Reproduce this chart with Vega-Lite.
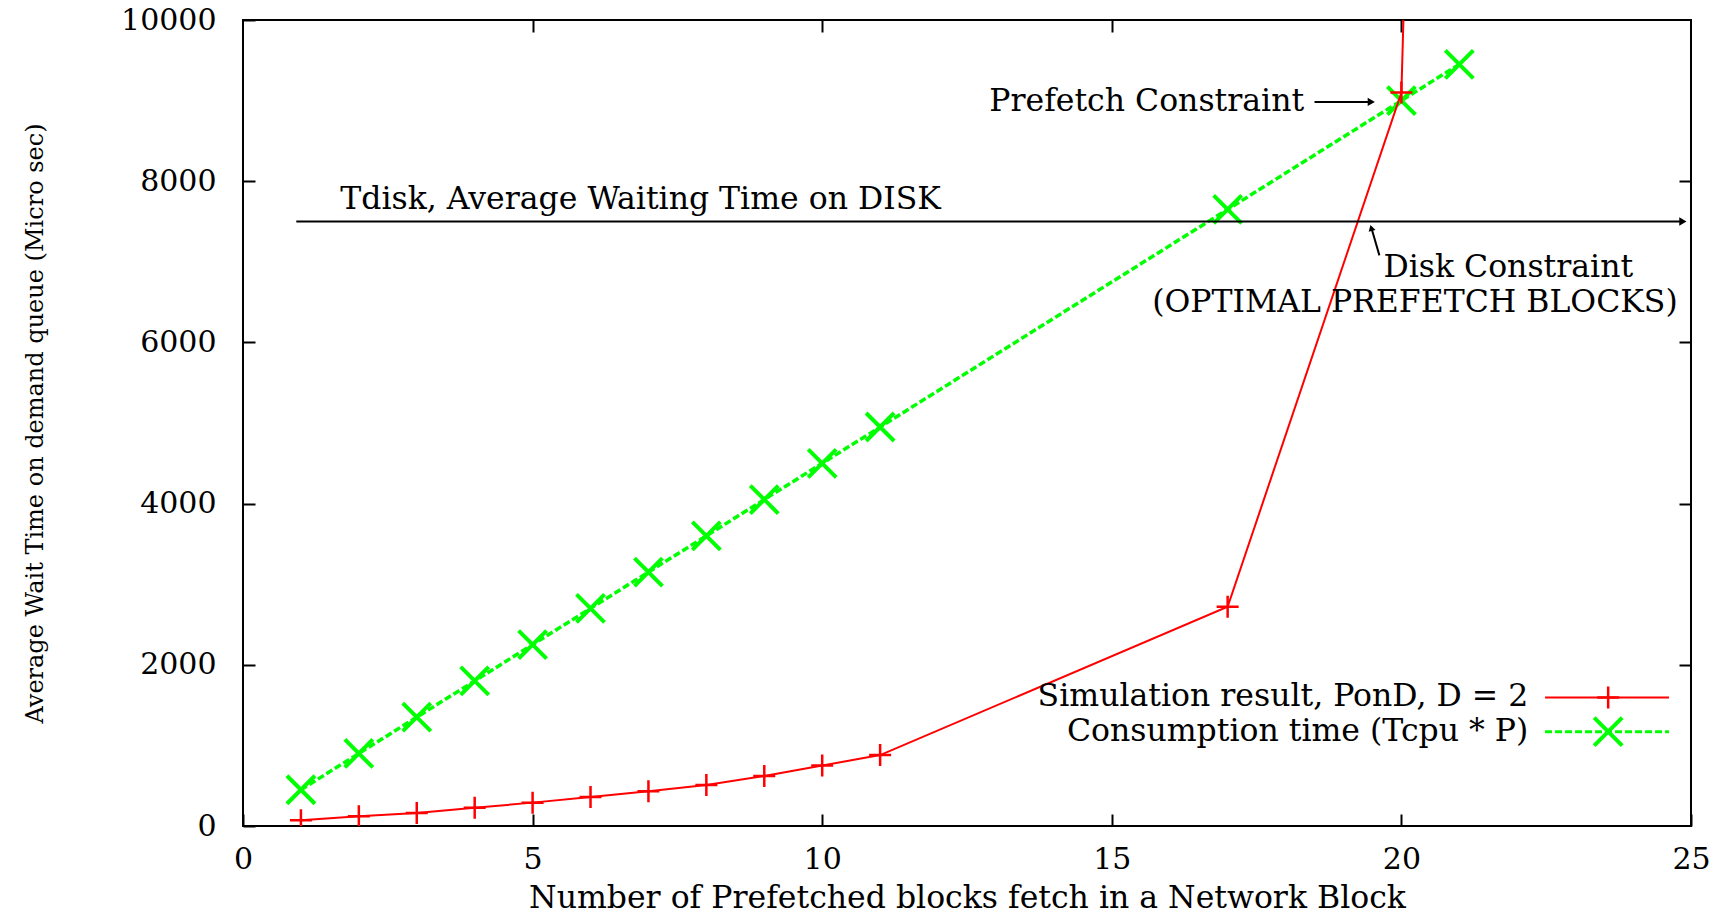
{
  "$schema": "https://vega.github.io/schema/vega-lite/v6.json",
  "width": 1448,
  "height": 806,
  "autosize": {"type": "none"},
  "padding": {"left": 243, "top": 20, "right": 42, "bottom": 89},
  "background": "white",
  "config": {
    "font": "DejaVu Serif",
    "view": {"stroke": "black", "strokeWidth": 2},
    "axis": {
      "domain": false,
      "grid": false,
      "ticks": true,
      "tickColor": "black",
      "tickWidth": 2,
      "tickSize": -12,
      "labelFont": "DejaVu Serif",
      "labelFontSize": 30,
      "labelColor": "black",
      "labelFlush": false,
      "labelOverlap": false,
      "labelBound": false,
      "titleFont": "DejaVu Serif",
      "titleFontWeight": "normal",
      "titleColor": "black"
    }
  },
  "datasets": {
    "sim": [
      {"P": 1, "wait": 70},
      {"P": 2, "wait": 120},
      {"P": 3, "wait": 160},
      {"P": 4, "wait": 225},
      {"P": 5, "wait": 290},
      {"P": 6, "wait": 360},
      {"P": 7, "wait": 430},
      {"P": 8, "wait": 510},
      {"P": 9, "wait": 620},
      {"P": 10, "wait": 750},
      {"P": 11, "wait": 880},
      {"P": 17, "wait": 2720},
      {"P": 20, "wait": 9100},
      {"P": 21, "wait": 35000}
    ],
    "cons": [
      {"P": 1, "wait": 450},
      {"P": 2, "wait": 900},
      {"P": 3, "wait": 1350},
      {"P": 4, "wait": 1800},
      {"P": 5, "wait": 2250},
      {"P": 6, "wait": 2700},
      {"P": 7, "wait": 3150},
      {"P": 8, "wait": 3600},
      {"P": 9, "wait": 4050},
      {"P": 10, "wait": 4500},
      {"P": 11, "wait": 4950},
      {"P": 17, "wait": 7650},
      {"P": 20, "wait": 9000},
      {"P": 21, "wait": 9450}
    ],
    "tdisk": [{"P": 0.92, "P2": 24.85, "wait": 7500, "wait2": 7500}],
    "pointers": [
      {"P": 18.5, "P2": 19.45, "wait": 8984, "wait2": 8984},
      {"P": 19.62, "P2": 19.49, "wait": 7080, "wait2": 7400}
    ],
    "heads_right": [
      {"P": 24.86, "wait": 7500},
      {"P": 19.48, "wait": 8984}
    ],
    "heads_up": [{"P": 19.48, "wait": 7420}],
    "notes": [
      {"P": 1.68, "wait": 7770, "label": "Tdisk, Average Waiting Time on DISK", "side": "left"},
      {"P": 18.32, "wait": 8984, "label": "Prefetch Constraint", "side": "right"},
      {"P": 19.69, "wait": 6925, "label": "Disk Constraint", "side": "left"},
      {"P": 24.77, "wait": 6495, "label": "(OPTIMAL PREFETCH BLOCKS)", "side": "right"},
      {"P": 22.19, "wait": 1595, "label": "Simulation result, PonD, D = 2", "side": "right"},
      {"P": 22.19, "wait": 1170, "label": "Consumption time (Tcpu * P)", "side": "right"}
    ],
    "key": [
      {"series": "sim", "P": 22.48, "P2": 24.62, "Pm": 23.57, "wait": 1595},
      {"series": "cons", "P": 22.48, "P2": 24.62, "Pm": 23.57, "wait": 1170}
    ]
  },
  "resolve": {"axis": {"x": "independent", "y": "independent"}},
  "layer": [
    {
      "data": {"name": "cons"},
      "mark": {"type": "line", "color": "#00ff00", "strokeWidth": 3.5, "strokeDash": [7, 3]},
      "encoding": {
        "x": {
          "field": "P", "type": "quantitative",
          "scale": {"domain": [0, 25], "nice": false, "zero": false},
          "axis": {
            "orient": "bottom",
            "values": [0, 5, 10, 15, 20, 25],
            "format": "d",
            "labelPadding": 30,
            "title": "Number of Prefetched blocks fetch in a Network Block",
            "titleFontSize": 31.5,
            "titlePadding": 8
          }
        },
        "y": {
          "field": "wait", "type": "quantitative",
          "scale": {"domain": [0, 10000], "nice": false, "zero": false},
          "axis": {
            "orient": "left",
            "values": [0, 2000, 4000, 6000, 8000, 10000],
            "format": "d",
            "labelPadding": 39,
            "title": "Average Wait Time on demand queue (Micro sec)",
            "titleFontSize": 24,
            "titlePadding": 73
          }
        }
      }
    },
    {
      "data": {"name": "cons"},
      "mark": {"type": "point", "shape": "M-1,-1L1,1M-1,1L1,-1", "filled": false, "stroke": "#00ff00", "strokeWidth": 4, "size": 784, "opacity": 1},
      "encoding": {
        "x": {"field": "P", "type": "quantitative", "axis": {"orient": "top", "labels": false, "title": null, "values": [5, 10, 15, 20]}},
        "y": {"field": "wait", "type": "quantitative", "axis": {"orient": "right", "labels": false, "title": null, "values": [2000, 4000, 6000, 8000]}}
      }
    },
    {
      "data": {"name": "sim"},
      "mark": {"type": "line", "color": "#ff0000", "strokeWidth": 2, "clip": true},
      "encoding": {
        "x": {"field": "P", "type": "quantitative", "axis": null},
        "y": {"field": "wait", "type": "quantitative", "axis": null}
      }
    },
    {
      "data": {"name": "sim"},
      "mark": {"type": "point", "shape": "M-1,0L1,0M0,-1L0,1", "filled": false, "stroke": "#ff0000", "strokeWidth": 2.5, "size": 484, "opacity": 1, "clip": true},
      "encoding": {
        "x": {"field": "P", "type": "quantitative", "axis": null},
        "y": {"field": "wait", "type": "quantitative", "axis": null}
      }
    },
    {
      "data": {"name": "tdisk"},
      "mark": {"type": "rule", "color": "black", "strokeWidth": 2},
      "encoding": {
        "x": {"field": "P", "type": "quantitative", "axis": null},
        "x2": {"field": "P2"},
        "y": {"field": "wait", "type": "quantitative", "axis": null},
        "y2": {"field": "wait2"}
      }
    },
    {
      "data": {"name": "pointers"},
      "mark": {"type": "rule", "color": "black", "strokeWidth": 2},
      "encoding": {
        "x": {"field": "P", "type": "quantitative", "axis": null},
        "x2": {"field": "P2"},
        "y": {"field": "wait", "type": "quantitative", "axis": null},
        "y2": {"field": "wait2"}
      }
    },
    {
      "data": {"name": "heads_right"},
      "mark": {"type": "point", "shape": "triangle-right", "filled": true, "color": "black", "size": 70, "opacity": 1},
      "encoding": {
        "x": {"field": "P", "type": "quantitative", "axis": null},
        "y": {"field": "wait", "type": "quantitative", "axis": null}
      }
    },
    {
      "data": {"name": "heads_up"},
      "mark": {"type": "point", "shape": "triangle-up", "filled": true, "color": "black", "size": 50, "angle": -15, "opacity": 1},
      "encoding": {
        "x": {"field": "P", "type": "quantitative", "axis": null},
        "y": {"field": "wait", "type": "quantitative", "axis": null}
      }
    },
    {
      "data": {"name": "notes"},
      "transform": [{"filter": "datum.side === 'left'"}],
      "mark": {"type": "text", "align": "left", "baseline": "middle", "fontSize": 31.5, "color": "black", "font": "DejaVu Serif"},
      "encoding": {
        "x": {"field": "P", "type": "quantitative", "axis": null},
        "y": {"field": "wait", "type": "quantitative", "axis": null},
        "text": {"field": "label"}
      }
    },
    {
      "data": {"name": "notes"},
      "transform": [{"filter": "datum.side === 'right'"}],
      "mark": {"type": "text", "align": "right", "baseline": "middle", "fontSize": 31.5, "color": "black", "font": "DejaVu Serif"},
      "encoding": {
        "x": {"field": "P", "type": "quantitative", "axis": null},
        "y": {"field": "wait", "type": "quantitative", "axis": null},
        "text": {"field": "label"}
      }
    },
    {
      "data": {"name": "key"},
      "transform": [{"filter": "datum.series === 'sim'"}],
      "mark": {"type": "rule", "color": "#ff0000", "strokeWidth": 2},
      "encoding": {
        "x": {"field": "P", "type": "quantitative", "axis": null},
        "x2": {"field": "P2"},
        "y": {"field": "wait", "type": "quantitative", "axis": null}
      }
    },
    {
      "data": {"name": "key"},
      "transform": [{"filter": "datum.series === 'sim'"}],
      "mark": {"type": "point", "shape": "M-1,0L1,0M0,-1L0,1", "filled": false, "stroke": "#ff0000", "strokeWidth": 2.5, "size": 484, "opacity": 1},
      "encoding": {
        "x": {"field": "Pm", "type": "quantitative", "axis": null},
        "y": {"field": "wait", "type": "quantitative", "axis": null}
      }
    },
    {
      "data": {"name": "key"},
      "transform": [{"filter": "datum.series === 'cons'"}],
      "mark": {"type": "rule", "color": "#00ff00", "strokeWidth": 3, "strokeDash": [7, 3]},
      "encoding": {
        "x": {"field": "P", "type": "quantitative", "axis": null},
        "x2": {"field": "P2"},
        "y": {"field": "wait", "type": "quantitative", "axis": null}
      }
    },
    {
      "data": {"name": "key"},
      "transform": [{"filter": "datum.series === 'cons'"}],
      "mark": {"type": "point", "shape": "M-1,-1L1,1M-1,1L1,-1", "filled": false, "stroke": "#00ff00", "strokeWidth": 4, "size": 784, "opacity": 1},
      "encoding": {
        "x": {"field": "Pm", "type": "quantitative", "axis": null},
        "y": {"field": "wait", "type": "quantitative", "axis": null}
      }
    }
  ]
}
